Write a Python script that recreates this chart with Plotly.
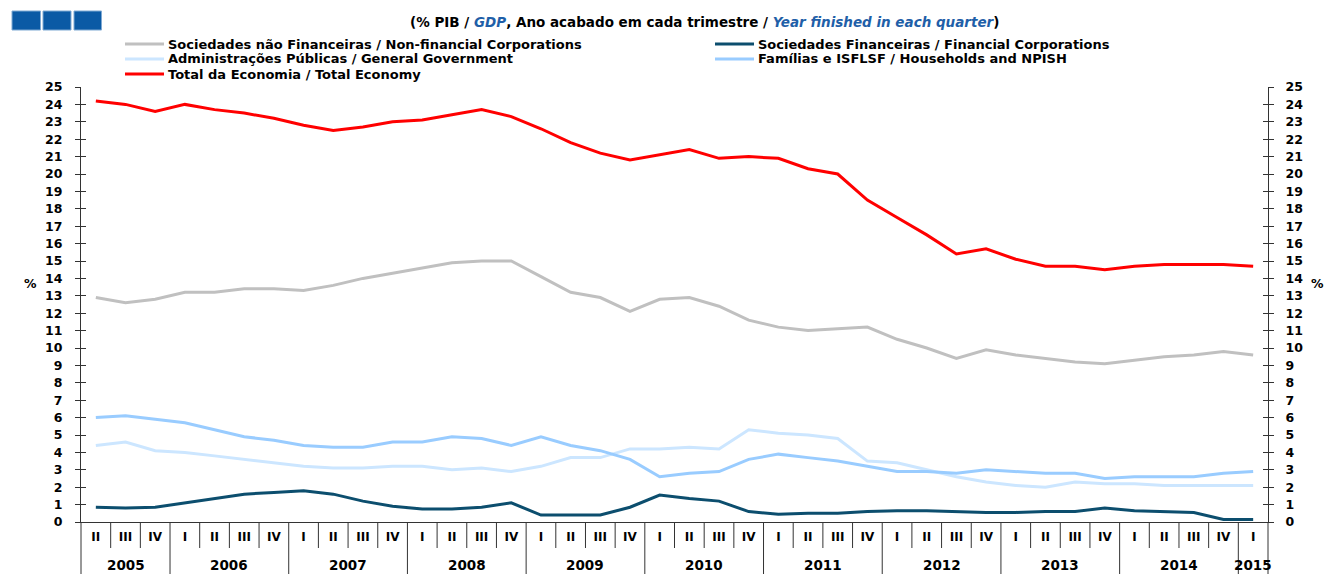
import plotly.graph_objects as go

# ---------------- data ----------------
years = ["2005"] * 3 + [str(y) for y in range(2006, 2015) for _ in range(4)] + ["2015"]
quarters = ["II", "III", "IV"] + ["I", "II", "III", "IV"] * 9 + ["I"]
year_labels = ["2005", "2006", "2007", "2008", "2009", "2010", "2011", "2012", "2013", "2014", "2015"]

non_financial = [12.9, 12.6, 12.8, 13.2, 13.2, 13.4, 13.4, 13.3, 13.6, 14.0, 14.3,
                 14.6, 14.9, 15.0, 15.0, 14.1, 13.2, 12.9, 12.1, 12.8, 12.9, 12.4,
                 11.6, 11.2, 11.0, 11.1, 11.2, 10.5, 10.0, 9.4, 9.9, 9.6, 9.4, 9.2,
                 9.1, 9.3, 9.5, 9.6, 9.8, 9.6]
financial = [0.85, 0.8, 0.85, 1.1, 1.35, 1.6, 1.7, 1.8, 1.6, 1.2, 0.9,
             0.75, 0.75, 0.85, 1.1, 0.4, 0.4, 0.4, 0.85, 1.55, 1.35, 1.2,
             0.6, 0.45, 0.5, 0.5, 0.6, 0.65, 0.65, 0.6, 0.55, 0.55, 0.6, 0.6,
             0.8, 0.65, 0.6, 0.55, 0.15, 0.15]
general_gov = [4.4, 4.6, 4.1, 4.0, 3.8, 3.6, 3.4, 3.2, 3.1, 3.1, 3.2,
               3.2, 3.0, 3.1, 2.9, 3.2, 3.7, 3.7, 4.2, 4.2, 4.3, 4.2,
               5.3, 5.1, 5.0, 4.8, 3.5, 3.4, 3.0, 2.6, 2.3, 2.1, 2.0, 2.3,
               2.2, 2.2, 2.1, 2.1, 2.1, 2.1]
households = [6.0, 6.1, 5.9, 5.7, 5.3, 4.9, 4.7, 4.4, 4.3, 4.3, 4.6,
              4.6, 4.9, 4.8, 4.4, 4.9, 4.4, 4.1, 3.6, 2.6, 2.8, 2.9,
              3.6, 3.9, 3.7, 3.5, 3.2, 2.9, 2.9, 2.8, 3.0, 2.9, 2.8, 2.8,
              2.5, 2.6, 2.6, 2.6, 2.8, 2.9]
total = [24.2, 24.0, 23.6, 24.0, 23.7, 23.5, 23.2, 22.8, 22.5, 22.7, 23.0,
         23.1, 23.4, 23.7, 23.3, 22.6, 21.8, 21.2, 20.8, 21.1, 21.4, 20.9,
         21.0, 20.9, 20.3, 20.0, 18.5, 17.5, 16.5, 15.4, 15.7, 15.1, 14.7, 14.7,
         14.5, 14.7, 14.8, 14.8, 14.8, 14.7]

series_names = [
    "Sociedades não Financeiras / Non-financial Corporations",
    "Sociedades Financeiras / Financial Corporations",
    "Administrações Públicas / General Government",
    "Famílias e ISFLSF / Households and NPISH",
    "Total da Economia / Total Economy",
]
series_values = [non_financial, financial, general_gov, households, total]
series_colors = ["#C0C0C0", "#0C4E6E", "#CCE6FF", "#99CCFF", "#FF0000"]

# unique category keys (quarter + year)
categories = [q + " " + y for q, y in zip(quarters, years)]

# ---------------- layout geometry (pixels) ----------------
W, H = 1327, 574
L, R, T, B = 81, 1268, 87, 522
PW, PH = R - L, B - T


def xp(px):
    return (px - L) / PW


def yp(py):
    return (B - py) / PH


FONT = "DejaVu Sans"
fig = go.Figure()

for name, vals, col in zip(series_names, series_values, series_colors):
    fig.add_trace(go.Scatter(x=categories, y=vals, name=name, mode="lines",
                             line=dict(color=col, width=3), showlegend=False))

# dummy traces so overlay axes are drawn
for ax in ["y2", "y3", "y4"]:
    fig.add_trace(go.Scatter(x=[categories[0]], y=[None], yaxis=ax,
                             showlegend=False, hoverinfo="skip"))

tickfont = dict(family=FONT, size=12.5, color="black", weight="bold")
common_y = dict(range=[0, 25], dtick=1, tick0=0, showgrid=False, zeroline=False,
                fixedrange=True)

fig.update_layout(
    width=W, height=H,
    margin=dict(l=L, r=W - R, t=T, b=H - B, pad=0),
    paper_bgcolor="white", plot_bgcolor="white",
    showlegend=False,
    xaxis=dict(type="category", categoryorder="array", categoryarray=categories,
               range=[-0.5, len(categories) - 0.5],
               showline=True, linecolor="#333", linewidth=1,
               tickmode="array", tickvals=categories, ticktext=quarters,
               ticks="", showgrid=False, ticklabelstandoff=4,
               tickfont=dict(family=FONT, size=12, color="black", weight="bold")),
    yaxis=dict(**common_y, side="left", showline=True, linecolor="#333", linewidth=1,
               ticks="outside", ticklen=5, tickcolor="#333", tickfont=tickfont,
               ticklabelstandoff=10),
    yaxis2=dict(**common_y, overlaying="y", side="right", anchor="x", showline=True,
                linecolor="#333", linewidth=1, ticks="outside", ticklen=5,
                tickcolor="#333", tickfont=tickfont, ticklabelstandoff=9),
    yaxis3=dict(**common_y, overlaying="y", side="left", anchor="x", ticks="inside",
                ticklen=5, tickcolor="#333", showticklabels=False, showline=False),
    yaxis4=dict(**common_y, overlaying="y", side="right", anchor="x", ticks="inside",
                ticklen=5, tickcolor="#333", showticklabels=False, showline=False),
)

shapes = []
annotations = []

# quarter and year dividers below the x axis
n = len(categories)
for i in range(n + 1):
    new_year = i == 0 or i == n or years[i] != years[i - 1]
    bottom = 574 if new_year else 548
    shapes.append(dict(type="line", xref="paper", yref="paper",
                       x0=i / n, x1=i / n, y0=0, y1=yp(bottom),
                       line=dict(color="#333", width=1)))

# year labels (centered under their quarters)
for yl in year_labels:
    idx = [i for i, y in enumerate(years) if y == yl]
    annotations.append(dict(text="<b>" + yl + "</b>", xref="x", yref="paper",
                            x=(idx[0] + idx[-1]) / 2, y=yp(565), xanchor="center",
                            yanchor="middle", showarrow=False,
                            font=dict(family=FONT, size=13.5, color="black")))

# three blue squares top-left
for x0, x1 in [(12, 40.5), (43, 71), (74, 101.5)]:
    shapes.append(dict(type="rect", xref="paper", yref="paper",
                       x0=xp(x0), x1=xp(x1), y0=yp(30), y1=yp(11),
                       fillcolor="#0B5AA5", line=dict(color="#7FA9D3", width=1)))

# title
blue = "#1F5FA8"
title = ("<b>(% PIB / <i><span style='color:{c}'>GDP</span></i>, Ano acabado em cada trimestre / "
         "<i><span style='color:{c}'>Year finished in each quarter</span></i>)</b>").format(c=blue)
annotations.append(dict(text=title, xref="paper", yref="paper", x=xp(704), y=yp(22),
                        xanchor="center", yanchor="middle", showarrow=False,
                        font=dict(family=FONT, size=13.5, color="black")))

# manual legend (two columns)
legend_pos = [(125, 44), (715, 44), (125, 59), (715, 59), (125, 74)]
for (lx, ly), name, col in zip(legend_pos, series_names, series_colors):
    shapes.append(dict(type="line", xref="paper", yref="paper",
                       x0=xp(lx), x1=xp(lx + 39), y0=yp(ly), y1=yp(ly),
                       line=dict(color=col, width=3)))
    annotations.append(dict(text="<b>" + name + "</b>", xref="paper", yref="paper",
                            x=xp(lx + 41), y=yp(ly), xanchor="left", yanchor="middle",
                            showarrow=False,
                            font=dict(family=FONT, size=13, color="black")))

# % labels
annotations.append(dict(text="<b>%</b>", xref="paper", yref="paper", x=xp(22),
                        y=yp(283), xanchor="left", yanchor="middle", showarrow=False,
                        font=dict(family=FONT, size=12.5, color="black")))
annotations.append(dict(text="<b>%</b>", xref="paper", yref="paper", x=xp(1326),
                        y=yp(283), xanchor="right", yanchor="middle", showarrow=False,
                        font=dict(family=FONT, size=12.5, color="black")))

fig.update_layout(shapes=shapes, annotations=annotations)
fig.write_html("out.html", config={"displayModeBar": False},
               post_script="document.body.style.margin='0';document.body.style.overflow='hidden';")
